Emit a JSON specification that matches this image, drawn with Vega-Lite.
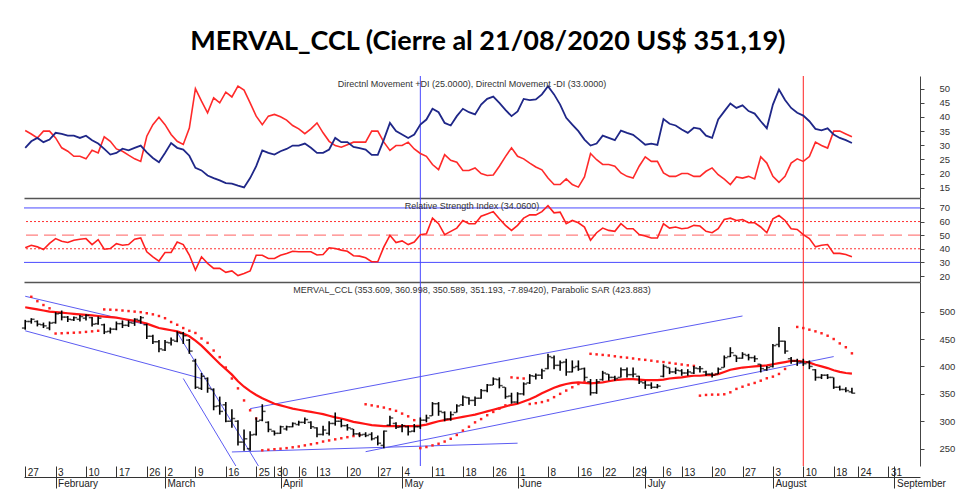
{
"$schema": "https://vega.github.io/schema/vega-lite/v6.json",
"padding": {"left": 20, "right": 5, "top": 27, "bottom": 0},
"autosize": {"type": "pad"},
"bounds": "flush",
"spacing": 0,
"title": {"text": "MERVAL_CCL (Cierre al 21/08/2020 US$ 351,19)", "font": "Lato", "fontSize": 27, "fontWeight": "bold", "color": "#000", "anchor": "middle", "offset": 20},
"config": {"view": {"stroke": null}, "font": "Liberation Sans", "axis": {"grid": false, "title": null, "labelFont": "Liberation Sans", "labelFontSize": 9.5, "labelColor": "#333", "labelAngle": 0}},
"params": [{"name": "days", "value": ["2020-01-27","2020-01-28","2020-01-29","2020-01-30","2020-01-31","2020-02-03","2020-02-04","2020-02-05","2020-02-06","2020-02-07","2020-02-10","2020-02-11","2020-02-12","2020-02-13","2020-02-14","2020-02-17","2020-02-18","2020-02-19","2020-02-20","2020-02-21","2020-02-26","2020-02-27","2020-02-28","2020-03-02","2020-03-03","2020-03-04","2020-03-05","2020-03-06","2020-03-09","2020-03-10","2020-03-11","2020-03-12","2020-03-13","2020-03-16","2020-03-17","2020-03-18","2020-03-19","2020-03-20","2020-03-25","2020-03-26","2020-03-27","2020-03-30","2020-04-01","2020-04-02","2020-04-03","2020-04-06","2020-04-07","2020-04-08","2020-04-13","2020-04-14","2020-04-15","2020-04-16","2020-04-17","2020-04-20","2020-04-21","2020-04-22","2020-04-23","2020-04-24","2020-04-27","2020-04-28","2020-04-29","2020-04-30","2020-05-04","2020-05-05","2020-05-06","2020-05-07","2020-05-08","2020-05-11","2020-05-12","2020-05-13","2020-05-14","2020-05-15","2020-05-18","2020-05-19","2020-05-20","2020-05-21","2020-05-22","2020-05-26","2020-05-27","2020-05-28","2020-05-29","2020-06-01","2020-06-02","2020-06-03","2020-06-04","2020-06-05","2020-06-08","2020-06-09","2020-06-10","2020-06-11","2020-06-12","2020-06-16","2020-06-17","2020-06-18","2020-06-19","2020-06-22","2020-06-23","2020-06-24","2020-06-25","2020-06-26","2020-06-29","2020-06-30","2020-07-01","2020-07-02","2020-07-03","2020-07-06","2020-07-07","2020-07-08","2020-07-13","2020-07-14","2020-07-15","2020-07-16","2020-07-17","2020-07-20","2020-07-21","2020-07-22","2020-07-23","2020-07-24","2020-07-27","2020-07-28","2020-07-29","2020-07-30","2020-07-31","2020-08-03","2020-08-04","2020-08-05","2020-08-06","2020-08-07","2020-08-10","2020-08-11","2020-08-12","2020-08-13","2020-08-14","2020-08-18","2020-08-19","2020-08-20","2020-08-21","2020-08-24","2020-08-25","2020-08-26","2020-08-27","2020-08-28","2020-08-31","2020-09-01","2020-09-02","2020-09-03","2020-09-04","2020-09-07"]}],
"datasets": {
"ohlc": [
{"d":"2020-01-27","o":470,"h":485,"l":467,"c":482,"ma":508,"sar":null,"dip":29.1,"dim":35.2,"rsi":40.7},
{"d":"2020-01-28","o":482,"h":488,"l":478,"c":486,"ma":506,"sar":527,"dip":31.4,"dim":34,"rsi":42.6},
{"d":"2020-01-29","o":482,"h":484,"l":473,"c":477,"ma":504,"sar":519,"dip":32.6,"dim":32.6,"rsi":41.4},
{"d":"2020-01-30","o":476,"h":480,"l":470,"c":474,"ma":502,"sar":512,"dip":31.1,"dim":35,"rsi":39.5},
{"d":"2020-01-31","o":470,"h":482,"l":466,"c":479,"ma":500,"sar":506,"dip":32,"dim":35,"rsi":44},
{"d":"2020-02-03","o":480,"h":499,"l":478,"c":496,"ma":499,"sar":460,"dip":34.4,"dim":32.6,"rsi":47.5},
{"d":"2020-02-04","o":497,"h":502,"l":484,"c":490,"ma":498,"sar":460.5,"dip":34,"dim":29.1,"rsi":45.5},
{"d":"2020-02-05","o":490,"h":492,"l":481,"c":486,"ma":497,"sar":461,"dip":33.4,"dim":27.9,"rsi":44.6},
{"d":"2020-02-06","o":485,"h":491,"l":483,"c":489,"ma":496,"sar":461.5,"dip":33.4,"dim":26.1,"rsi":46.3},
{"d":"2020-02-07","o":486,"h":494,"l":482,"c":491,"ma":495,"sar":462,"dip":32.6,"dim":26.1,"rsi":47},
{"d":"2020-02-10","o":488,"h":495,"l":484,"c":493,"ma":494,"sar":463,"dip":33.4,"dim":25.2,"rsi":47.5},
{"d":"2020-02-11","o":489,"h":490,"l":473,"c":477,"ma":493,"sar":464,"dip":31.8,"dim":28.2,"rsi":43.1},
{"d":"2020-02-12","o":478,"h":491,"l":476,"c":488,"ma":492,"sar":465,"dip":30.6,"dim":27.3,"rsi":46.7},
{"d":"2020-02-13","o":476,"h":478,"l":459,"c":463,"ma":491,"sar":504,"dip":28.7,"dim":33,"rsi":39.7},
{"d":"2020-02-14","o":464,"h":471,"l":460,"c":468,"ma":490,"sar":503.5,"dip":26.7,"dim":31.4,"rsi":40.2},
{"d":"2020-02-17","o":468,"h":482,"l":466,"c":478,"ma":489,"sar":503,"dip":27.3,"dim":28.7,"rsi":43.8},
{"d":"2020-02-18","o":478,"h":484,"l":470,"c":475,"ma":487,"sar":502,"dip":28.8,"dim":27.9,"rsi":42.6},
{"d":"2020-02-19","o":475,"h":484,"l":472,"c":480,"ma":485,"sar":501,"dip":28.2,"dim":26.5,"rsi":43.1},
{"d":"2020-02-20","o":479,"h":488,"l":474,"c":486,"ma":483,"sar":500,"dip":29.1,"dim":25.2,"rsi":47},
{"d":"2020-02-21","o":484,"h":492,"l":478,"c":489,"ma":481,"sar":499,"dip":29.9,"dim":24.3,"rsi":47.9},
{"d":"2020-02-26","o":476,"h":478,"l":450,"c":455,"ma":478,"sar":497,"dip":27.5,"dim":33.2,"rsi":37.8},
{"d":"2020-02-27","o":455,"h":458,"l":441,"c":445,"ma":474,"sar":495,"dip":25.5,"dim":37.3,"rsi":34.1},
{"d":"2020-02-28","o":445,"h":448,"l":426,"c":432,"ma":470,"sar":492,"dip":24,"dim":39.9,"rsi":31},
{"d":"2020-03-02","o":430,"h":448,"l":428,"c":444,"ma":468,"sar":488,"dip":27.3,"dim":37.3,"rsi":37.3},
{"d":"2020-03-03","o":443,"h":453,"l":438,"c":448,"ma":466,"sar":481,"dip":30.8,"dim":33.8,"rsi":37.3},
{"d":"2020-03-04","o":446,"h":464,"l":444,"c":461,"ma":464,"sar":476,"dip":29.1,"dim":31.4,"rsi":45},
{"d":"2020-03-05","o":460,"h":463,"l":441,"c":456,"ma":460,"sar":470,"dip":28.5,"dim":30.3,"rsi":43.1},
{"d":"2020-03-06","o":448,"h":450,"l":423,"c":428,"ma":455,"sar":465,"dip":26.3,"dim":36.1,"rsi":35.4},
{"d":"2020-03-09","o":410,"h":414,"l":359,"c":362,"ma":447,"sar":461,"dip":22,"dim":50,"rsi":24.4},
{"d":"2020-03-10","o":360,"h":388,"l":357,"c":382,"ma":438,"sar":451,"dip":21.1,"dim":45.6,"rsi":34.1},
{"d":"2020-03-11","o":378,"h":380,"l":352,"c":360,"ma":427,"sar":443,"dip":19.3,"dim":41.5,"rsi":29.3},
{"d":"2020-03-12","o":358,"h":360,"l":320,"c":327,"ma":416,"sar":429,"dip":18.4,"dim":46.8,"rsi":25.6},
{"d":"2020-03-13","o":328,"h":345,"l":312,"c":318,"ma":405,"sar":417,"dip":17.6,"dim":45,"rsi":25.6},
{"d":"2020-03-16","o":330,"h":335,"l":298,"c":300,"ma":395,"sar":398,"dip":16.6,"dim":48.8,"rsi":22.7},
{"d":"2020-03-17","o":300,"h":322,"l":288,"c":305,"ma":385,"sar":378,"dip":16.4,"dim":47.1,"rsi":23.7},
{"d":"2020-03-18","o":300,"h":302,"l":256,"c":262,"ma":373,"sar":360,"dip":15.7,"dim":50.9,"rsi":20.3},
{"d":"2020-03-19","o":262,"h":285,"l":246,"c":268,"ma":363,"sar":338,"dip":15.1,"dim":49.5,"rsi":21.8},
{"d":"2020-03-20","o":250,"h":282,"l":246,"c":275,"ma":355,"sar":320,"dip":18.4,"dim":45,"rsi":23.7},
{"d":"2020-03-25","o":276,"h":307,"l":274,"c":300,"ma":348,"sar":305,"dip":22.6,"dim":40.3,"rsi":35.3},
{"d":"2020-03-26","o":302,"h":331,"l":300,"c":318,"ma":342,"sar":247,"dip":28.2,"dim":37.3,"rsi":35.3},
{"d":"2020-03-27","o":298,"h":300,"l":280,"c":285,"ma":337,"sar":248,"dip":27.3,"dim":40.3,"rsi":32.9},
{"d":"2020-03-30","o":282,"h":283,"l":274,"c":278,"ma":332,"sar":249,"dip":26.7,"dim":40.9,"rsi":32.9},
{"d":"2020-04-01","o":278,"h":292,"l":277,"c":290,"ma":329,"sar":250,"dip":27.9,"dim":40.1,"rsi":35.3},
{"d":"2020-04-02","o":286,"h":292,"l":283,"c":290,"ma":326,"sar":251,"dip":28.7,"dim":38.9,"rsi":36.6},
{"d":"2020-04-03","o":290,"h":298,"l":289,"c":296,"ma":323,"sar":252.5,"dip":29.9,"dim":37,"rsi":38.2},
{"d":"2020-04-06","o":294,"h":301,"l":292,"c":298,"ma":321,"sar":254,"dip":29.9,"dim":35.8,"rsi":37.8},
{"d":"2020-04-07","o":298,"h":307,"l":295,"c":303,"ma":319,"sar":256,"dip":30.6,"dim":34.1,"rsi":37.8},
{"d":"2020-04-08","o":298,"h":300,"l":286,"c":290,"ma":317,"sar":258,"dip":29.1,"dim":35.8,"rsi":37.8},
{"d":"2020-04-13","o":288,"h":289,"l":271,"c":276,"ma":315,"sar":260,"dip":27.3,"dim":37.9,"rsi":35.4},
{"d":"2020-04-14","o":276,"h":292,"l":274,"c":284,"ma":313,"sar":263,"dip":27.3,"dim":34.4,"rsi":35.8},
{"d":"2020-04-15","o":278,"h":300,"l":274,"c":296,"ma":310,"sar":265,"dip":28.5,"dim":31.4,"rsi":40.7},
{"d":"2020-04-16","o":296,"h":316,"l":292,"c":300,"ma":307,"sar":267,"dip":32.6,"dim":29.9,"rsi":40.2},
{"d":"2020-04-17","o":300,"h":304,"l":289,"c":292,"ma":305,"sar":269,"dip":31.1,"dim":29.3,"rsi":39},
{"d":"2020-04-20","o":292,"h":295,"l":283,"c":288,"ma":302,"sar":271,"dip":31.1,"dim":30.2,"rsi":38.2},
{"d":"2020-04-21","o":286,"h":286,"l":274,"c":277,"ma":299,"sar":273,"dip":29.4,"dim":31.1,"rsi":34.9},
{"d":"2020-04-22","o":277,"h":280,"l":271,"c":275,"ma":297,"sar":275,"dip":29,"dim":31.1,"rsi":34.6},
{"d":"2020-04-23","o":276,"h":280,"l":271,"c":274,"ma":295,"sar":331,"dip":28.5,"dim":31.1,"rsi":33.4},
{"d":"2020-04-24","o":276,"h":280,"l":265,"c":268,"ma":293,"sar":329,"dip":26.6,"dim":35,"rsi":30.5},
{"d":"2020-04-27","o":270,"h":274,"l":256,"c":260,"ma":292,"sar":327,"dip":26.6,"dim":35,"rsi":30.5},
{"d":"2020-04-28","o":256,"h":283,"l":251,"c":282,"ma":291,"sar":325,"dip":32,"dim":31.1,"rsi":41.4},
{"d":"2020-04-29","o":293,"h":310,"l":292,"c":306,"ma":291,"sar":322,"dip":37.9,"dim":28.2,"rsi":49.9},
{"d":"2020-04-30","o":296,"h":298,"l":286,"c":289,"ma":291,"sar":319,"dip":35,"dim":29.9,"rsi":44.6},
{"d":"2020-05-04","o":290,"h":295,"l":280,"c":292,"ma":291,"sar":314,"dip":33.8,"dim":29.9,"rsi":45.8},
{"d":"2020-05-05","o":290,"h":292,"l":274,"c":281,"ma":291,"sar":309,"dip":32.6,"dim":31.1,"rsi":43.1},
{"d":"2020-05-06","o":282,"h":295,"l":280,"c":290,"ma":291,"sar":302,"dip":33.8,"dim":28.7,"rsi":45},
{"d":"2020-05-07","o":290,"h":307,"l":286,"c":302,"ma":292,"sar":251,"dip":37.3,"dim":27.1,"rsi":50.4},
{"d":"2020-05-08","o":302,"h":312,"l":298,"c":306,"ma":294,"sar":253,"dip":39.1,"dim":26.1,"rsi":51.1},
{"d":"2020-05-11","o":310,"h":335,"l":310,"c":332,"ma":297,"sar":256,"dip":42.9,"dim":23.2,"rsi":62.5},
{"d":"2020-05-12","o":332,"h":335,"l":310,"c":318,"ma":300,"sar":259,"dip":41.7,"dim":21.4,"rsi":58.4},
{"d":"2020-05-13","o":316,"h":318,"l":300,"c":304,"ma":302,"sar":263,"dip":37.9,"dim":26.7,"rsi":50.4},
{"d":"2020-05-14","o":304,"h":318,"l":301,"c":312,"ma":304,"sar":268,"dip":37,"dim":24.7,"rsi":52.8},
{"d":"2020-05-15","o":316,"h":331,"l":316,"c":328,"ma":306,"sar":275,"dip":40.3,"dim":24,"rsi":55.2},
{"d":"2020-05-18","o":330,"h":347,"l":328,"c":344,"ma":308,"sar":283,"dip":42.9,"dim":21.1,"rsi":60.8},
{"d":"2020-05-19","o":343,"h":344,"l":330,"c":338,"ma":310,"sar":290,"dip":41.7,"dim":21.1,"rsi":58.4},
{"d":"2020-05-20","o":338,"h":345,"l":328,"c":342,"ma":312,"sar":298,"dip":40.9,"dim":22,"rsi":58.4},
{"d":"2020-05-21","o":342,"h":359,"l":341,"c":356,"ma":315,"sar":304,"dip":44.4,"dim":20,"rsi":63.9},
{"d":"2020-05-22","o":356,"h":368,"l":353,"c":366,"ma":318,"sar":311,"dip":46.4,"dim":19.3,"rsi":65.6},
{"d":"2020-05-26","o":366,"h":380,"l":366,"c":377,"ma":321,"sar":317,"dip":47.2,"dim":19.5,"rsi":67.3},
{"d":"2020-05-27","o":376,"h":380,"l":360,"c":365,"ma":324,"sar":323,"dip":45,"dim":22.6,"rsi":62},
{"d":"2020-05-28","o":362,"h":362,"l":341,"c":345,"ma":327,"sar":329,"dip":42.5,"dim":26,"rsi":57.2},
{"d":"2020-05-29","o":346,"h":352,"l":332,"c":335,"ma":330,"sar":380,"dip":40.3,"dim":29.1,"rsi":53.5},
{"d":"2020-06-01","o":335,"h":353,"l":332,"c":350,"ma":332,"sar":379,"dip":42,"dim":26.1,"rsi":57.2},
{"d":"2020-06-02","o":350,"h":371,"l":347,"c":368,"ma":336,"sar":378,"dip":46.4,"dim":25.2,"rsi":62.5},
{"d":"2020-06-03","o":370,"h":386,"l":368,"c":383,"ma":340,"sar":331.5,"dip":46,"dim":23.7,"rsi":64.9},
{"d":"2020-06-04","o":382,"h":387,"l":376,"c":384,"ma":345,"sar":333,"dip":46.2,"dim":22.3,"rsi":64.9},
{"d":"2020-06-05","o":384,"h":396,"l":377,"c":392,"ma":351,"sar":335,"dip":48,"dim":21.3,"rsi":67.3},
{"d":"2020-06-08","o":396,"h":423,"l":395,"c":418,"ma":356,"sar":338,"dip":50.9,"dim":18.4,"rsi":71.7},
{"d":"2020-06-09","o":416,"h":420,"l":395,"c":402,"ma":361,"sar":344,"dip":48,"dim":16.1,"rsi":66.4},
{"d":"2020-06-10","o":402,"h":411,"l":392,"c":407,"ma":365,"sar":350,"dip":44.4,"dim":16.1,"rsi":66.9},
{"d":"2020-06-11","o":408,"h":414,"l":383,"c":390,"ma":368,"sar":356,"dip":39.7,"dim":18.1,"rsi":58.4},
{"d":"2020-06-12","o":390,"h":411,"l":389,"c":398,"ma":370,"sar":362,"dip":37.3,"dim":16.1,"rsi":60.8},
{"d":"2020-06-16","o":400,"h":411,"l":392,"c":395,"ma":371,"sar":368,"dip":35,"dim":15.2,"rsi":59.1},
{"d":"2020-06-17","o":396,"h":398,"l":374,"c":380,"ma":370,"sar":372,"dip":32,"dim":18.8,"rsi":55.9},
{"d":"2020-06-18","o":372,"h":377,"l":347,"c":352,"ma":369,"sar":423,"dip":29.9,"dim":27.1,"rsi":46.3},
{"d":"2020-06-19","o":352,"h":377,"l":350,"c":372,"ma":370,"sar":422,"dip":30.6,"dim":24.9,"rsi":51.8},
{"d":"2020-06-22","o":376,"h":392,"l":374,"c":388,"ma":371,"sar":421,"dip":33.4,"dim":23.2,"rsi":55.2},
{"d":"2020-06-23","o":386,"h":386,"l":374,"c":380,"ma":373,"sar":420,"dip":32.6,"dim":23.2,"rsi":53.5},
{"d":"2020-06-24","o":380,"h":383,"l":374,"c":378,"ma":375,"sar":418.5,"dip":31.8,"dim":22.6,"rsi":52.8},
{"d":"2020-06-25","o":380,"h":398,"l":380,"c":394,"ma":376,"sar":417,"dip":35.2,"dim":20.2,"rsi":58.4},
{"d":"2020-06-26","o":394,"h":398,"l":380,"c":385,"ma":377,"sar":416,"dip":34.4,"dim":19,"rsi":54.7},
{"d":"2020-06-29","o":385,"h":398,"l":380,"c":386,"ma":377,"sar":414.5,"dip":33.7,"dim":18.4,"rsi":54.7},
{"d":"2020-06-30","o":382,"h":383,"l":368,"c":372,"ma":376,"sar":413,"dip":32,"dim":22.6,"rsi":50.4},
{"d":"2020-07-01","o":370,"h":374,"l":359,"c":366,"ma":375,"sar":412,"dip":30.2,"dim":25.9,"rsi":49.4},
{"d":"2020-07-02","o":366,"h":371,"l":359,"c":362,"ma":375,"sar":410.5,"dip":30.6,"dim":24.3,"rsi":47.9},
{"d":"2020-07-03","o":362,"h":368,"l":360,"c":364,"ma":375,"sar":409,"dip":30.1,"dim":24.3,"rsi":47.9},
{"d":"2020-07-06","o":382,"h":404,"l":380,"c":400,"ma":376,"sar":408,"dip":39.3,"dim":20.2,"rsi":58.4},
{"d":"2020-07-07","o":398,"h":398,"l":386,"c":390,"ma":378,"sar":406.5,"dip":37.6,"dim":19,"rsi":55.2},
{"d":"2020-07-08","o":390,"h":398,"l":386,"c":393,"ma":379,"sar":405,"dip":37,"dim":19,"rsi":56},
{"d":"2020-07-13","o":392,"h":395,"l":383,"c":388,"ma":380,"sar":403.5,"dip":35.6,"dim":20,"rsi":54.7},
{"d":"2020-07-14","o":388,"h":395,"l":383,"c":390,"ma":382,"sar":402,"dip":34.4,"dim":20,"rsi":55.2},
{"d":"2020-07-15","o":388,"h":401,"l":386,"c":397,"ma":383,"sar":401,"dip":36.2,"dim":19,"rsi":57.2},
{"d":"2020-07-16","o":396,"h":401,"l":389,"c":396,"ma":383,"sar":346.7,"dip":35.8,"dim":19,"rsi":56.7},
{"d":"2020-07-17","o":390,"h":392,"l":383,"c":386,"ma":384,"sar":348,"dip":33.4,"dim":20.8,"rsi":52.8},
{"d":"2020-07-20","o":386,"h":389,"l":380,"c":384,"ma":384,"sar":348.6,"dip":32.6,"dim":22,"rsi":51.8},
{"d":"2020-07-21","o":386,"h":398,"l":386,"c":395,"ma":386,"sar":348.6,"dip":39.1,"dim":19.6,"rsi":54.7},
{"d":"2020-07-22","o":398,"h":420,"l":398,"c":416,"ma":390,"sar":349.2,"dip":42,"dim":18,"rsi":61.5},
{"d":"2020-07-23","o":418,"h":435,"l":417,"c":425,"ma":394,"sar":352.8,"dip":44.8,"dim":16.1,"rsi":62.5},
{"d":"2020-07-24","o":420,"h":420,"l":408,"c":415,"ma":396,"sar":359,"dip":43.2,"dim":18.8,"rsi":60.8},
{"d":"2020-07-27","o":415,"h":426,"l":414,"c":422,"ma":398,"sar":363,"dip":44.1,"dim":18.4,"rsi":61.5},
{"d":"2020-07-28","o":420,"h":423,"l":411,"c":416,"ma":399,"sar":366.8,"dip":42.1,"dim":19,"rsi":59.1},
{"d":"2020-07-29","o":416,"h":420,"l":408,"c":414,"ma":400,"sar":369.9,"dip":41.2,"dim":18.1,"rsi":59.1},
{"d":"2020-07-30","o":404,"h":404,"l":389,"c":396,"ma":401,"sar":374,"dip":38.5,"dim":25.9,"rsi":56},
{"d":"2020-07-31","o":394,"h":401,"l":392,"c":398,"ma":402,"sar":378.4,"dip":36,"dim":23.7,"rsi":51.8},
{"d":"2020-08-03","o":400,"h":441,"l":398,"c":438,"ma":404,"sar":381.4,"dip":44.4,"dim":19,"rsi":62},
{"d":"2020-08-04","o":440,"h":472,"l":435,"c":446,"ma":406,"sar":386.3,"dip":49.7,"dim":16.9,"rsi":64.4},
{"d":"2020-08-05","o":446,"h":447,"l":423,"c":428,"ma":408,"sar":395.4,"dip":46,"dim":19,"rsi":60.8},
{"d":"2020-08-06","o":414,"h":417,"l":405,"c":410,"ma":410,"sar":null,"dip":43.2,"dim":23.7,"rsi":54.7},
{"d":"2020-08-07","o":410,"h":414,"l":401,"c":408,"ma":410,"sar":472,"dip":41.5,"dim":25.2,"rsi":54.2},
{"d":"2020-08-10","o":408,"h":414,"l":401,"c":405,"ma":409,"sar":470,"dip":40.5,"dim":24.3,"rsi":50.4},
{"d":"2020-08-11","o":408,"h":411,"l":395,"c":400,"ma":407,"sar":467,"dip":38.5,"dim":26,"rsi":47.5},
{"d":"2020-08-12","o":394,"h":395,"l":374,"c":380,"ma":403,"sar":464,"dip":35.8,"dim":31.1,"rsi":41.4},
{"d":"2020-08-13","o":380,"h":386,"l":377,"c":384,"ma":400,"sar":460.5,"dip":35.3,"dim":29.9,"rsi":42.6},
{"d":"2020-08-14","o":384,"h":386,"l":377,"c":380,"ma":397,"sar":456,"dip":36,"dim":29,"rsi":43.1},
{"d":"2020-08-18","o":380,"h":380,"l":359,"c":362,"ma":393,"sar":450,"dip":33.8,"dim":35,"rsi":36.6},
{"d":"2020-08-19","o":362,"h":365,"l":356,"c":358,"ma":390,"sar":442,"dip":32.6,"dim":35,"rsi":36.6},
{"d":"2020-08-20","o":358,"h":362,"l":353,"c":356,"ma":388,"sar":435,"dip":31.8,"dim":34,"rsi":35.8},
{"d":"2020-08-21","o":353.609,"h":360.998,"l":350.589,"c":351.193,"ma":387,"sar":423.883,"dip":30.8,"dim":33,"rsi":34.06}
],
"trend": [
{"seg":"L1","d":"2020-01-27","v":528},{"seg":"L1","d":"2020-02-26","v":476},
{"seg":"L2","d":"2020-01-27","v":465},{"seg":"L2","d":"2020-03-10","v":378},
{"seg":"L3","d":"2020-03-04","v":462},{"seg":"L3","d":"2020-03-26","v":207},
{"seg":"L4","d":"2020-03-05","v":378},{"seg":"L4","d":"2020-03-18","v":212},
{"seg":"L5","d":"2020-03-17","v":244},{"seg":"L5","d":"2020-06-01","v":260},
{"seg":"L6","d":"2020-03-20","v":323},{"seg":"L6","d":"2020-07-27","v":492},
{"seg":"L7","d":"2020-04-23","v":244.5},{"seg":"L7","d":"2020-08-18","v":418}
]
},
"vconcat": [
{
"width": 896, "height": 122,
"data": {"name": "ohlc"},
"title": {"text": "Directnl Movement +DI (25.0000), Directnl Movement -DI (33.0000)", "font": "Liberation Sans", "fontSize": 9, "fontWeight": "normal", "color": "#333", "anchor": "middle", "baseline": "top", "offset": -13},
"layer": [
{"data": {"values": [{"d": "2020-05-07"}]}, "mark": {"type": "rule", "color": "#4848ff", "strokeWidth": 1},
 "encoding": {"x": {"field": "d", "type": "ordinal", "scale": {"type": "point", "domain": {"expr": "days"}, "padding": 0.2}, "axis": {"domain": true, "domainColor": "#555", "domainWidth": 1.5, "ticks": false, "labels": false}}}},
{"data": {"values": [{"d": "2020-08-10"}]}, "mark": {"type": "rule", "color": "#ff2020", "strokeWidth": 1},
 "encoding": {"x": {"field": "d", "type": "ordinal", "scale": {"type": "point"}, "axis": {"domain": true, "domainColor": "#555", "domainWidth": 1.5, "ticks": false, "labels": false}}}},
{"mark": {"type": "line", "color": "#ff2a2a", "strokeWidth": 1.6},
 "encoding": {"x": {"field": "d", "type": "ordinal", "scale": {"type": "point"}, "axis": {"domain": true, "domainColor": "#555", "domainWidth": 1.5, "ticks": false, "labels": false}},
  "y": {"field": "dim", "type": "quantitative", "axis": {"orient": "right", "values": [15,20,25,30,35,40,45,50], "domainColor": "#444", "tickColor": "#444", "tickSize": 4, "labelPadding": 15}}}},
{"mark": {"type": "line", "color": "#1f2788", "strokeWidth": 1.8},
 "encoding": {"x": {"field": "d", "type": "ordinal", "scale": {"type": "point"}, "axis": {"domain": true, "domainColor": "#555", "domainWidth": 1.5, "ticks": false, "labels": false}},
  "y": {"field": "dip", "type": "quantitative", "scale": {"domain": [11.35, 54.5], "zero": false, "nice": false}, "axis": {"orient": "right", "values": [15,20,25,30,35,40,45,50], "domainColor": "#444", "tickColor": "#444", "tickSize": 4, "labelPadding": 15}}}}
]
},
{
"width": 896, "height": 84,
"data": {"name": "ohlc"},
"title": {"text": "Relative Strength Index (34.0600)", "font": "Liberation Sans", "fontSize": 9, "fontWeight": "normal", "color": "#333", "anchor": "middle", "baseline": "top", "offset": -13},
"layer": [
{"data": {"values": [{"lvl": 70}, {"lvl": 30}]}, "mark": {"type": "rule", "color": "#4a4aff", "strokeWidth": 1},
 "encoding": {"y": {"field": "lvl", "type": "quantitative", "axis": {"orient": "right", "values": [20,30,40,50,60,70], "domainColor": "#444", "tickColor": "#444", "tickSize": 4, "labelPadding": 15}}}},
{"data": {"values": [{"lvl": 60}, {"lvl": 40}]}, "mark": {"type": "rule", "color": "#ff3030", "strokeWidth": 1, "strokeDash": [2, 2]},
 "encoding": {"y": {"field": "lvl", "type": "quantitative", "axis": {"orient": "right", "values": [20,30,40,50,60,70], "domainColor": "#444", "tickColor": "#444", "tickSize": 4, "labelPadding": 15}}}},
{"data": {"values": [{"lvl": 50}]}, "mark": {"type": "rule", "color": "#ff8080", "strokeWidth": 1.2, "strokeDash": [12, 6]},
 "encoding": {"y": {"field": "lvl", "type": "quantitative", "axis": {"orient": "right", "values": [20,30,40,50,60,70], "domainColor": "#444", "tickColor": "#444", "tickSize": 4, "labelPadding": 15}}}},
{"data": {"values": [{"d": "2020-05-07"}]}, "mark": {"type": "rule", "color": "#4848ff", "strokeWidth": 1},
 "encoding": {"x": {"field": "d", "type": "ordinal", "scale": {"type": "point", "domain": {"expr": "days"}, "padding": 0.2}, "axis": {"domain": true, "domainColor": "#555", "domainWidth": 1.5, "ticks": false, "labels": false}}}},
{"data": {"values": [{"d": "2020-08-10"}]}, "mark": {"type": "rule", "color": "#ff2020", "strokeWidth": 1},
 "encoding": {"x": {"field": "d", "type": "ordinal", "scale": {"type": "point"}, "axis": {"domain": true, "domainColor": "#555", "domainWidth": 1.5, "ticks": false, "labels": false}}}},
{"mark": {"type": "line", "color": "#ff2020", "strokeWidth": 1.6},
 "encoding": {"x": {"field": "d", "type": "ordinal", "scale": {"type": "point"}, "axis": {"domain": true, "domainColor": "#555", "domainWidth": 1.5, "ticks": false, "labels": false}},
  "y": {"field": "rsi", "type": "quantitative", "scale": {"domain": [15.6, 77.3], "zero": false, "nice": false}, "axis": {"orient": "right", "values": [20,30,40,50,60,70], "domainColor": "#444", "tickColor": "#444", "tickSize": 4, "labelPadding": 15}}}}
]
},
{
"width": 896, "height": 184,
"data": {"name": "ohlc"},
"title": {"text": "MERVAL_CCL (353.609, 360.998, 350.589, 351.193, -7.89420), Parabolic SAR (423.883)", "font": "Liberation Sans", "fontSize": 9, "fontWeight": "normal", "color": "#333", "anchor": "middle", "baseline": "top", "offset": -13},
"resolve": {"axis": {"x": "independent"}},
"layer": [
{"data": {"name": "trend"}, "mark": {"type": "line", "color": "#5c5cf2", "strokeWidth": 1, "clip": true},
 "encoding": {"x": {"field": "d", "type": "ordinal", "scale": {"type": "point", "domain": {"expr": "days"}, "padding": 0.2}, "axis": null},
  "y": {"field": "v", "type": "quantitative", "scale": {"domain": [218.4, 554], "zero": false, "nice": false}, "axis": {"orient": "right", "values": [250,300,350,400,450,500], "domainColor": "#444", "tickColor": "#444", "tickSize": 4, "labelPadding": 15}},
  "detail": {"field": "seg", "type": "nominal"}}},
{"data": {"values": [{"d": "2020-05-07"}]}, "mark": {"type": "rule", "color": "#4848ff", "strokeWidth": 1},
 "encoding": {"x": {"field": "d", "type": "ordinal", "scale": {"type": "point"}, "axis": null}}},
{"data": {"values": [{"d": "2020-08-10"}]}, "mark": {"type": "rule", "color": "#ff2020", "strokeWidth": 1},
 "encoding": {"x": {"field": "d", "type": "ordinal", "scale": {"type": "point"}, "axis": null}}},
{"mark": {"type": "line", "color": "#ff1414", "strokeWidth": 2.2},
 "encoding": {"x": {"field": "d", "type": "ordinal", "scale": {"type": "point"}, "axis": {"orient": "bottom", "offset": 11, "values": ["2020-02-03","2020-03-02","2020-04-01","2020-05-04","2020-06-01","2020-07-01","2020-08-03","2020-09-01"], "labelExpr": "utcFormat(toDate(datum.value), '%B')", "domain": true, "domainColor": "#333", "domainWidth": 1, "ticks": true, "tickSize": 11, "tickColor": "#333", "labelAlign": "left", "labelBaseline": "top", "labelPadding": -10, "labelOffset": 2, "labelFontSize": 10, "labelColor": "#222", "labelOverlap": false, "labelFlush": false, "labelAngle": 0}},
  "y": {"field": "ma", "type": "quantitative", "axis": {"orient": "right", "values": [250,300,350,400,450,500], "domainColor": "#444", "tickColor": "#444", "tickSize": 4, "labelPadding": 15}}}},
{"mark": {"type": "square", "color": "#ff2020", "size": 6, "opacity": 1},
 "encoding": {"x": {"field": "d", "type": "ordinal", "scale": {"type": "point"}, "axis": null},
  "y": {"field": "sar", "type": "quantitative", "axis": {"orient": "right", "values": [250,300,350,400,450,500], "domainColor": "#444", "tickColor": "#444", "tickSize": 4, "labelPadding": 15}}}},
{"mark": {"type": "rule", "color": "#000", "strokeWidth": 1.6},
 "encoding": {"x": {"field": "d", "type": "ordinal", "scale": {"type": "point"}, "axis": {"orient": "bottom", "values": ["2020-01-27","2020-02-03","2020-02-10","2020-02-17","2020-02-26","2020-03-02","2020-03-09","2020-03-16","2020-03-25","2020-03-30","2020-04-01","2020-04-06","2020-04-13","2020-04-20","2020-04-27","2020-05-04","2020-05-11","2020-05-18","2020-05-26","2020-06-01","2020-06-08","2020-06-16","2020-06-22","2020-06-29","2020-07-01","2020-07-06","2020-07-13","2020-07-20","2020-07-27","2020-08-03","2020-08-10","2020-08-18","2020-08-24","2020-08-31","2020-09-01"], "labelExpr": "indexof(['2020-04-01','2020-07-01','2020-09-01'], datum.value) >= 0 ? '' : toNumber(slice(datum.value, 8))", "domain": false, "ticks": true, "tickSize": 11, "tickColor": "#333", "labelAlign": "left", "labelBaseline": "top", "labelPadding": -10, "labelOffset": 2, "labelFontSize": 10, "labelColor": "#222", "labelOverlap": false, "labelFlush": false, "labelAngle": 0}},
  "y": {"field": "l", "type": "quantitative", "axis": {"orient": "right", "values": [250,300,350,400,450,500], "domainColor": "#444", "tickColor": "#444", "tickSize": 4, "labelPadding": 15}}, "y2": {"field": "h"}}},
{"mark": {"type": "tick", "orient": "horizontal", "color": "#000", "size": 3, "thickness": 1.5, "xOffset": -1.8},
 "encoding": {"x": {"field": "d", "type": "ordinal", "scale": {"type": "point"}, "axis": null},
  "y": {"field": "o", "type": "quantitative", "axis": {"orient": "right", "values": [250,300,350,400,450,500], "domainColor": "#444", "tickColor": "#444", "tickSize": 4, "labelPadding": 15}}}},
{"mark": {"type": "tick", "orient": "horizontal", "color": "#000", "size": 3, "thickness": 1.5, "xOffset": 1.8},
 "encoding": {"x": {"field": "d", "type": "ordinal", "scale": {"type": "point"}, "axis": null},
  "y": {"field": "c", "type": "quantitative", "axis": {"orient": "right", "values": [250,300,350,400,450,500], "domainColor": "#444", "tickColor": "#444", "tickSize": 4, "labelPadding": 15}}}}
]
}
]
}
